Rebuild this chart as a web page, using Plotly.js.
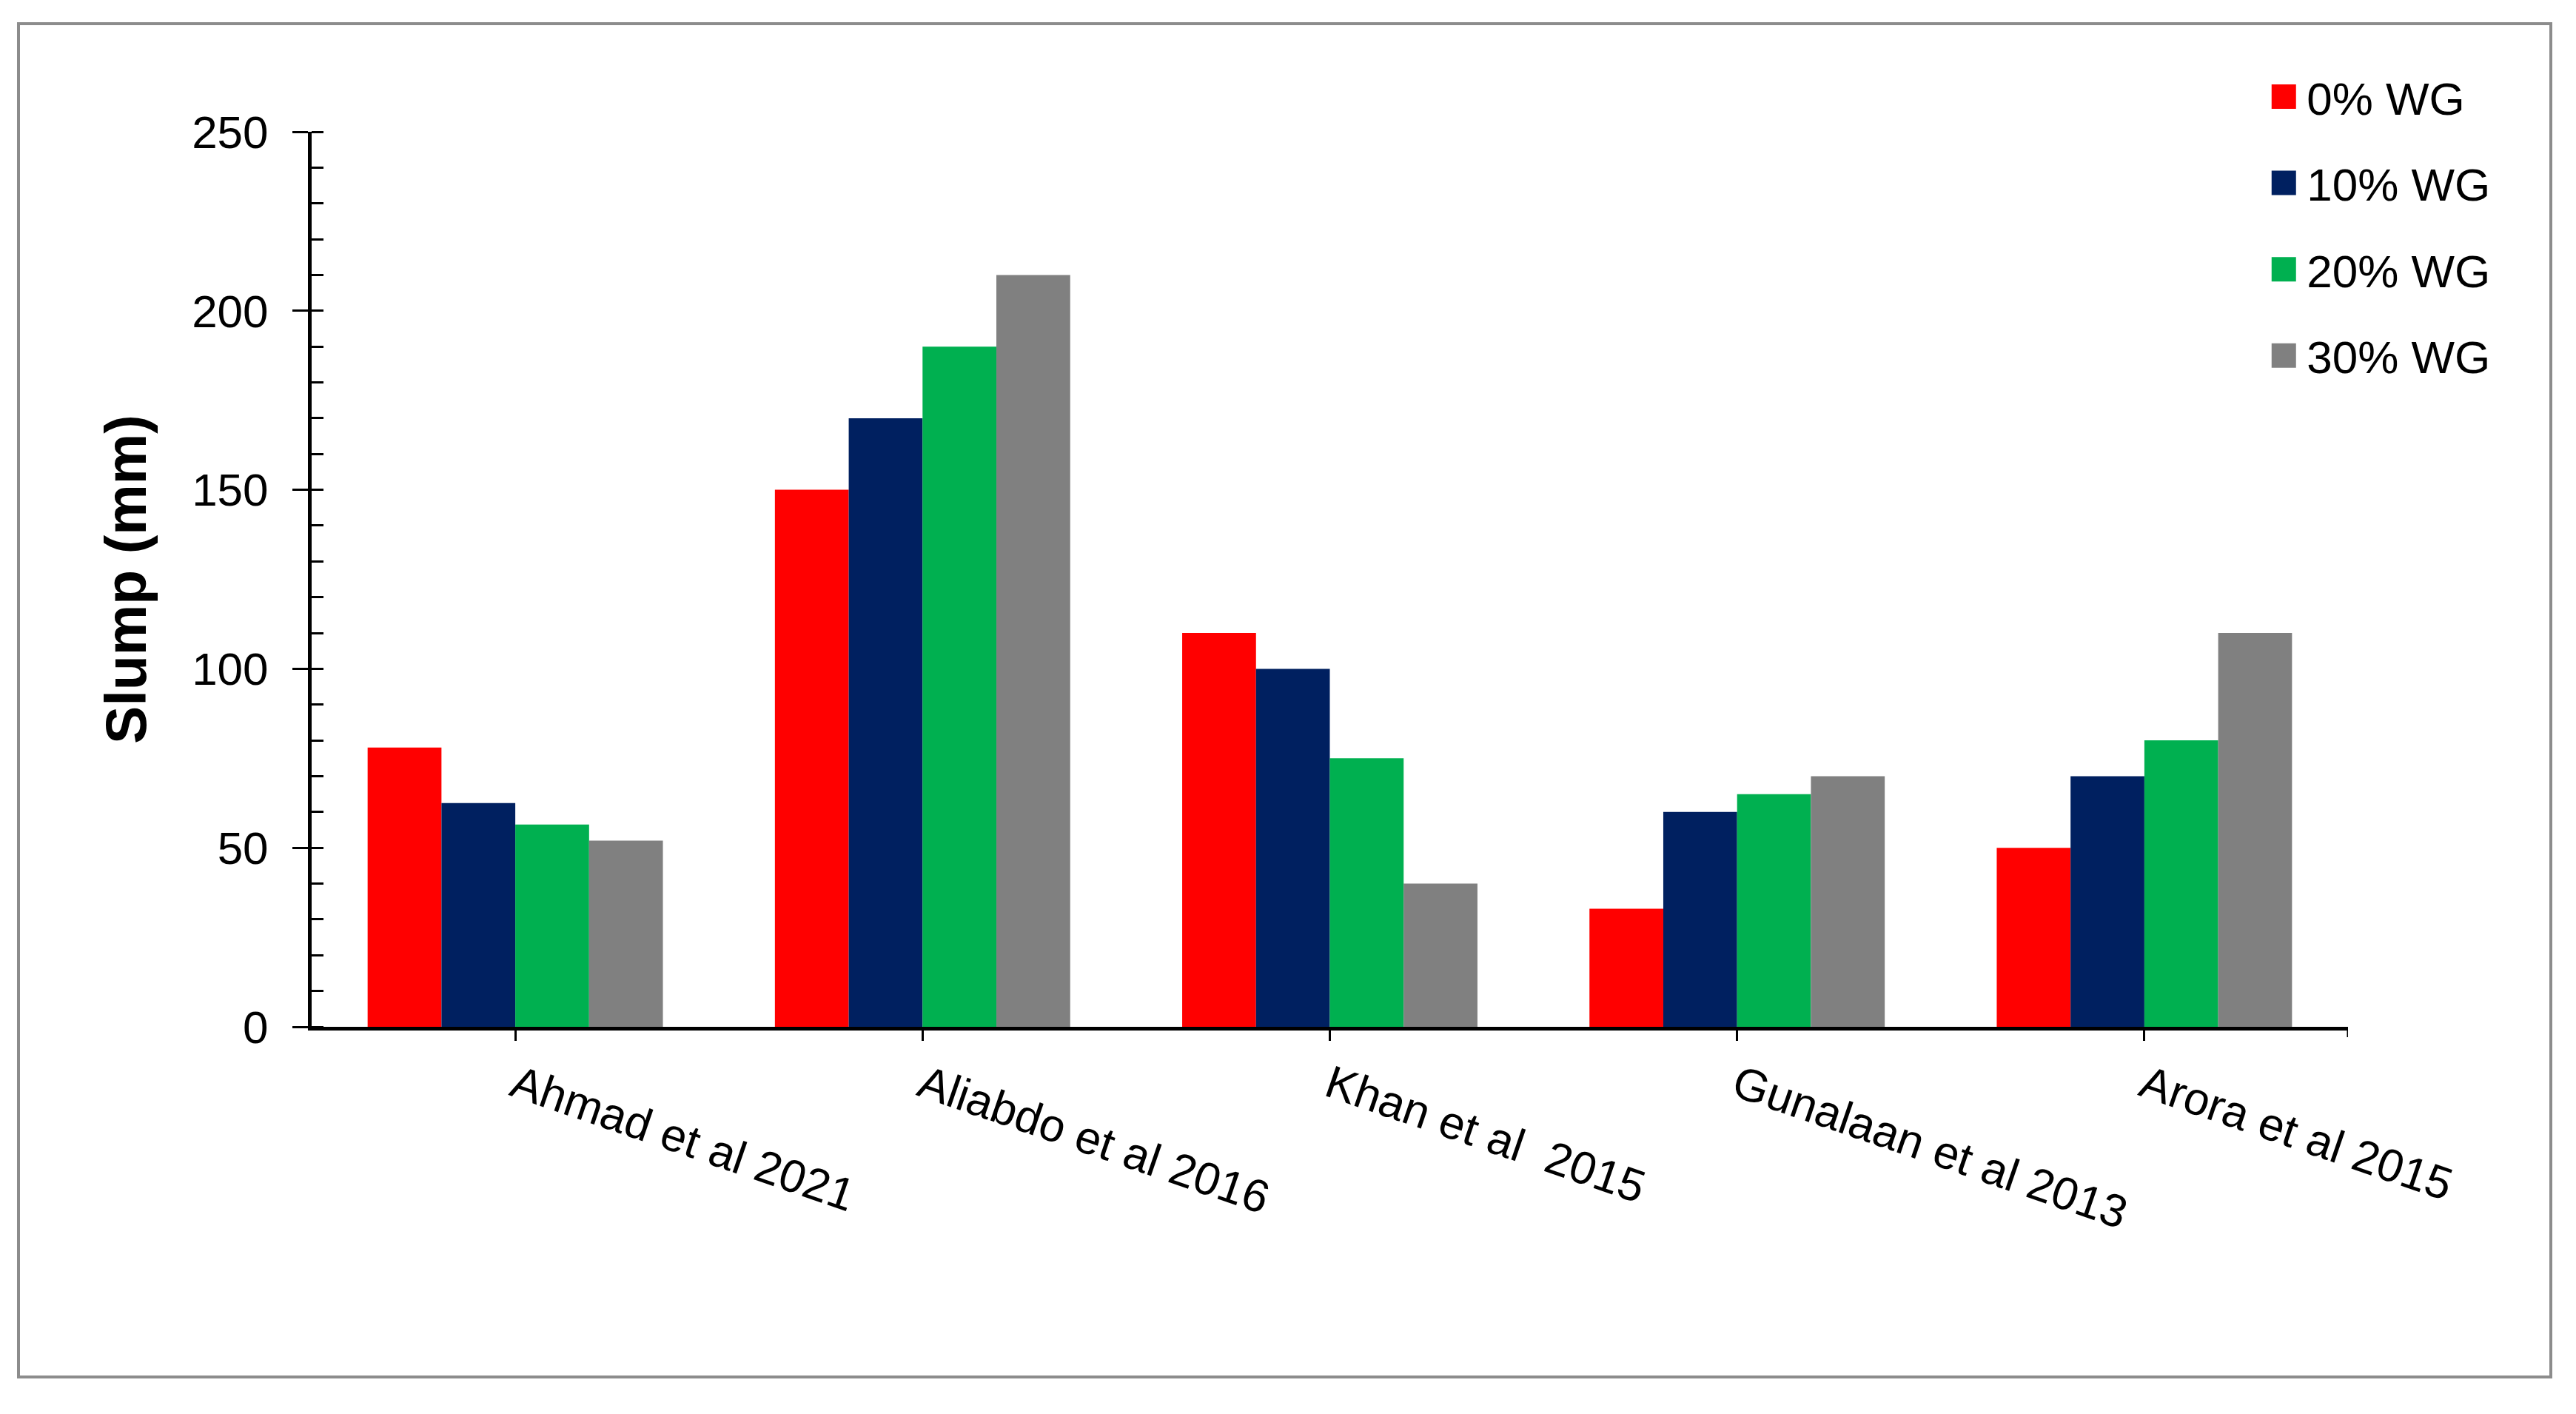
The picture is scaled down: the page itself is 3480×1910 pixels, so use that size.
<!DOCTYPE html>
<html><head><meta charset="utf-8">
<script src="https://cdn.plot.ly/plotly-3.0.1.min.js"></script>
<style>html,body{margin:0;padding:0;background:#fff;} #chart{width:3480px;height:1910px;}</style>
</head><body><div id="chart"></div>
<script>
const categories = ["Ahmad et al 2021", "Aliabdo et al 2016", "Khan et al\u00a0 2015", "Gunalaan et al 2013", "Arora et al 2015"];
const seriesNames = ["0% WG", "10% WG", "20% WG", "30% WG"];
const wg0  = [78, 150, 110, 33, 50];
const wg10 = [62.5, 170, 100, 60, 70];
const wg20 = [56.5, 190, 75, 65, 80];
const wg30 = [52, 210, 40, 70, 110];
const seriesColors = ["#FF0000", "#002060", "#00B050", "#808080"];
const yTickVals = [0, 50, 100, 150, 200, 250];

const FONT = "Arial, 'Liberation Sans', sans-serif";
const allSeries = [wg0, wg10, wg20, wg30];
const traces = allSeries.map((vals, i) => ({
  type: "bar",
  x: categories,
  y: vals,
  name: seriesNames[i],
  legendgroup: "g" + i,
  marker: {color: seriesColors[i], line: {width: 0}},
  hoverinfo: "x+y+name"
}));

const layout = {
  width: 3480, height: 1910,
  paper_bgcolor: "#ffffff", plot_bgcolor: "#ffffff",
  margin: {l: 421, r: 308, t: 178, b: 523, pad: 0},
  barmode: "group", bargap: 0.275, bargroupgap: 0,
  showlegend: true,
  legend: {
    x: 0.9652, xanchor: "left", y: 1.078, yanchor: "top",
    font: {family: FONT, size: 62, color: "#000"},
    bgcolor: "rgba(0,0,0,0)", borderwidth: 0,
    tracegroupgap: 33, traceorder: "grouped"
  },
  xaxis: {
    type: "category", range: [-0.5, 4.5],
    showline: true, linecolor: "#000", linewidth: 5,
    ticks: "outside", ticklen: 14, tickwidth: 3, tickcolor: "#000",
    tickangle: 19,
    tickfont: {family: FONT, size: 62, color: "#000"},
    showgrid: false, zeroline: false, automargin: false
  },
  yaxis: {
    range: [0, 250], tickvals: yTickVals,
    showline: true, linecolor: "#000", linewidth: 5,
    ticks: "outside", ticklen: 21, tickwidth: 3, tickcolor: "#000",
    ticklabelstandoff: 20,
    minor: {ticks: "inside", ticklen: 16, tickwidth: 3, tickcolor: "#000", dtick: 10, showgrid: false},
    tickfont: {family: FONT, size: 62, color: "#000"},
    title: {text: "Slump (mm)", font: {family: FONT, size: 77, color: "#000", weight: "bold"}, standoff: 38},
    showgrid: false, zeroline: false, automargin: false
  },
  yaxis2: {
    overlaying: "y", side: "left", range: [0, 250], tickvals: yTickVals,
    ticks: "inside", ticklen: 16, tickwidth: 3, tickcolor: "#000",
    showticklabels: false, showline: false, showgrid: false, zeroline: false
  },
  shapes: [
    {type: "line", xref: "x", yref: "paper", x0: 4.5, x1: 4.5, y0: 0, y1: -0.0116,
     line: {color: "#000", width: 3}},
    {type: "rect", xref: "paper", yref: "paper", x0: -0.14395, x1: 1.0996, y0: -0.39123, y1: 1.12076,
     line: {color: "#8c8c8c", width: 4}, fillcolor: "rgba(0,0,0,0)", layer: "below"}
  ]
};

Plotly.newPlot("chart", traces, layout, {displayModeBar: false, staticPlot: true}).then(() => {
  document.querySelectorAll(".legend .legendpoints path").forEach(p => {
    p.removeAttribute("transform");
    p.setAttribute("d", "M25.5,16.5H-7.5V-16.5H25.5Z");
  });
  document.querySelectorAll(".legend [clip-path]").forEach(el => el.removeAttribute("clip-path"));
});
</script>
</body></html>
